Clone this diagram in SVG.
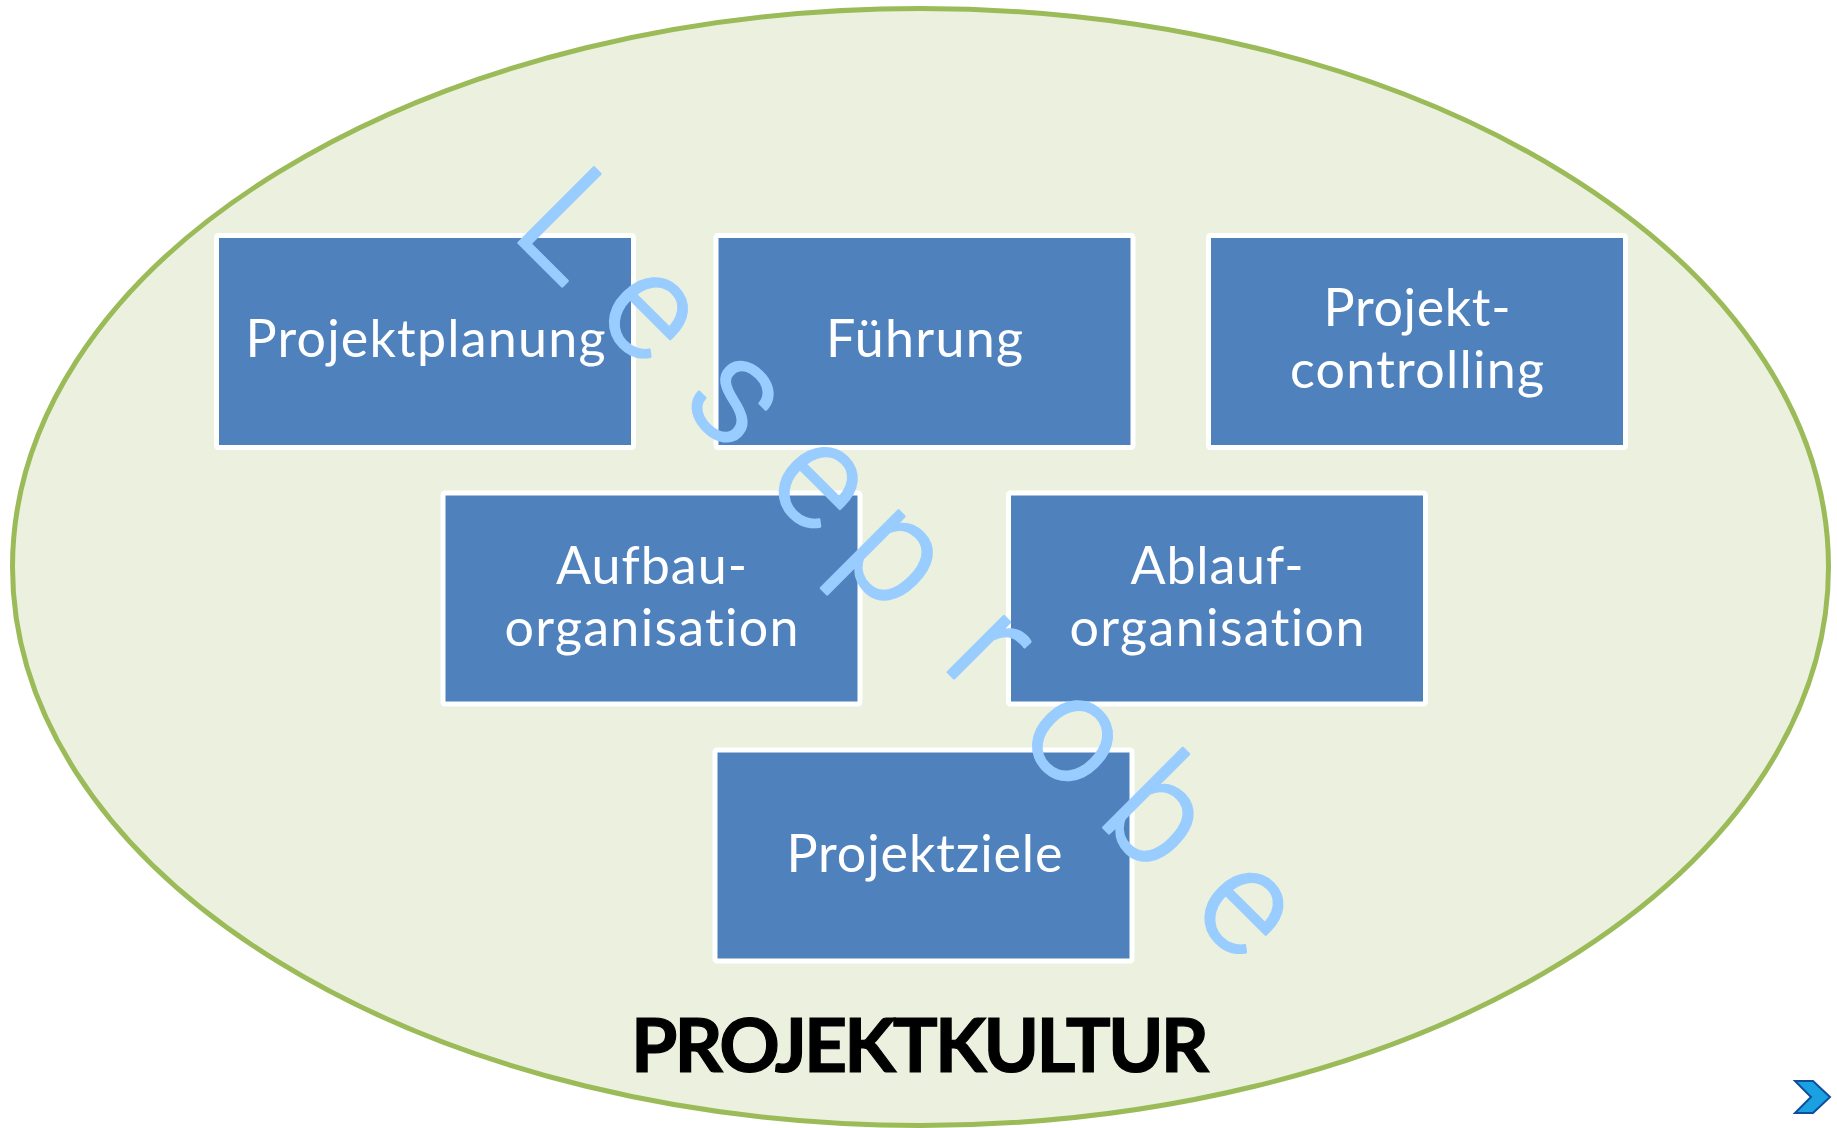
<svg xmlns="http://www.w3.org/2000/svg" width="1837" height="1128" viewBox="0 0 1837 1128">
  <style>
    .box { fill: #4F81BD; stroke: #FFFFFF; stroke-width: 5; }
    .lbl { font-family: Lato, "Open Sans", "Liberation Sans", sans-serif; font-size: 52px; fill: #FFFFFF; text-anchor: middle; font-variant-ligatures: none; font-feature-settings: "liga" 0, "clig" 0; }
    .title { font-family: Lato, "Liberation Sans", sans-serif; font-weight: bold; font-size: 75px; fill: #000000; text-anchor: middle; stroke: #000000; stroke-width: 1.2; }
    .wm { font-family: Roboto, "DejaVu Sans", sans-serif; font-weight: 300; font-size: 150px; fill: #99CCFF; stroke: #99CCFF; stroke-width: 2.5; stroke-linejoin: round; }
  </style>
  <rect x="0" y="0" width="1837" height="1128" fill="#FFFFFF"/>
  <g id="projektkultur">
    <ellipse cx="920.5" cy="567" rx="908" ry="558.5" fill="#EBF1DE" stroke="#9BBB59" stroke-width="5"/>
    <text class="title" x="920" y="1072" textLength="578">PROJEKTKULTUR</text>
  </g>
  <g id="connectors"></g>
  <g id="node-projektplanung">
    <rect class="box" x="216.5" y="235.5" width="417" height="212" rx="2"/>
    <text class="lbl" x="425.5" y="357" textLength="360">Projektplanung</text>
  </g>
  <g id="node-fuehrung">
    <rect class="box" x="716" y="235.5" width="417" height="212" rx="2"/>
    <text class="lbl" x="924.5" y="357" textLength="197">Führung</text>
  </g>
  <g id="node-projektcontrolling">
    <rect class="box" x="1208.5" y="235.5" width="417" height="212" rx="2"/>
    <text class="lbl" x="1417" y="326" textLength="187">Projekt-</text>
    <text class="lbl" x="1417" y="388" textLength="254">controlling</text>
  </g>
  <g id="node-aufbauorganisation">
    <rect class="box" x="443" y="493" width="417" height="211" rx="2"/>
    <text class="lbl" x="651.5" y="583.5" textLength="191">Aufbau-</text>
    <text class="lbl" x="651.5" y="645.5" textLength="294">organisation</text>
  </g>
  <g id="node-ablauforganisation">
    <rect class="box" x="1008.5" y="493" width="417" height="211" rx="2"/>
    <text class="lbl" x="1217" y="583.5" textLength="173">Ablauf-</text>
    <text class="lbl" x="1217" y="645.5" textLength="295">organisation</text>
  </g>
  <g id="node-projektziele">
    <rect class="box" x="715" y="750" width="417" height="211" rx="2"/>
    <text class="lbl" x="924.5" y="872" textLength="276">Projektziele</text>
  </g>
  <g id="watermark" transform="rotate(45)">
    <text class="wm" x="525 642 764 882 985 1134 1240 1354 1484" y="-195">Leseprobe</text>
  </g>
  <g id="next-icon">
    <polygon points="1795,1081 1813,1081 1830,1097 1813,1113 1795,1113 1811,1097" fill="#1BA1E2" stroke="#0D4F9E" stroke-width="2" stroke-linejoin="miter"/>
  </g>
</svg>
